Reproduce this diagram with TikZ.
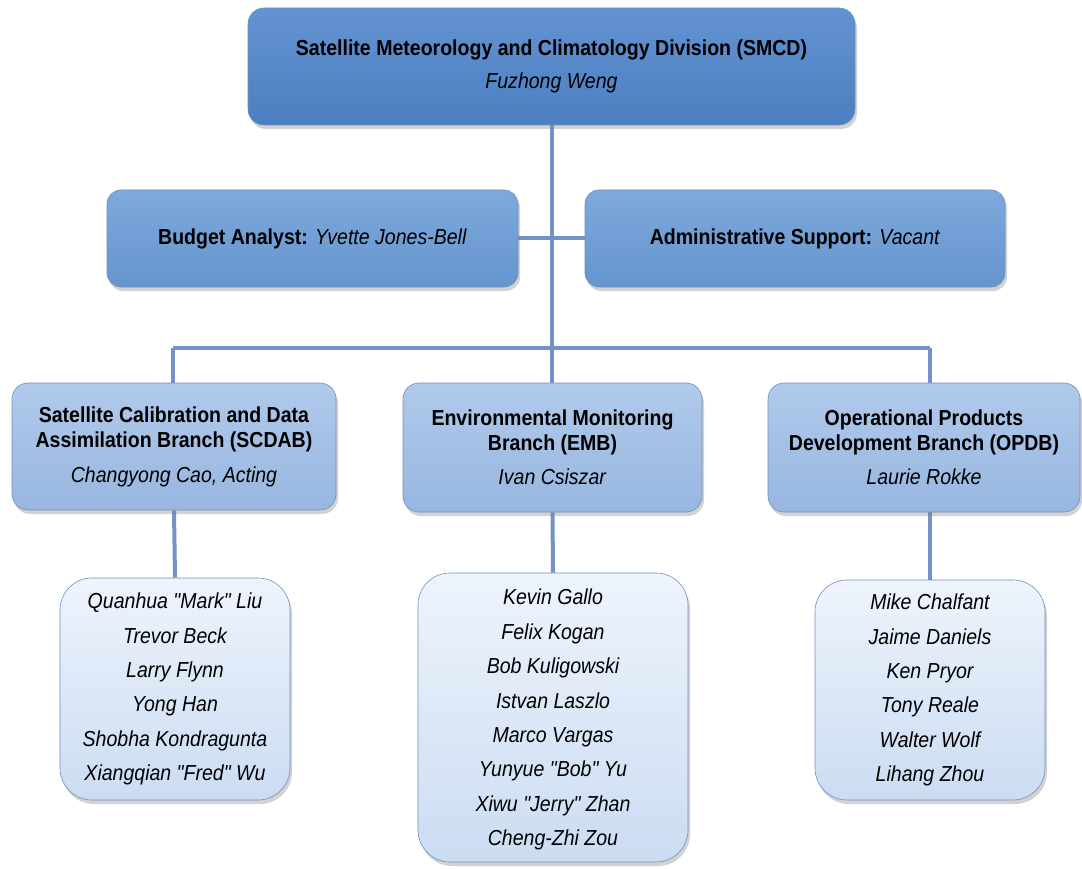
\documentclass[tikz,border=0pt]{standalone}
\usepackage{fontspec}
\setmainfont{Liberation Sans}[FakeStretch=0.9, Ligatures=TeXOff]
\usetikzlibrary{shadows}
\pgfdeclarelayer{background}
\pgfsetlayers{background,main}
\definecolor{lineblue}{HTML}{7393C6}
\definecolor{topA}{HTML}{6393D2}
\definecolor{topB}{HTML}{4C7EC1}
\definecolor{midA}{HTML}{7DA9DC}
\definecolor{midB}{HTML}{6595CE}
\definecolor{brA}{HTML}{B0CAEB}
\definecolor{brB}{HTML}{98B6E0}
\definecolor{stA}{HTML}{EEF4FC}
\definecolor{stB}{HTML}{CBDCF2}
\definecolor{edge}{HTML}{6F8FBF}
\tikzset{
  x=1pt, y=-1pt,
  conn/.style={draw=lineblue, line width=4pt},
  basebox/.style={draw=edge, line width=0.6pt, align=center, inner sep=0pt,
    drop shadow={shadow xshift=2pt, shadow yshift=-4pt, opacity=0.35},
    font=\fontsize{21.7}{25}\selectfont},
  topbox/.style={basebox, rounded corners=16pt, top color=topA, bottom color=topB},
  midbox/.style={basebox, rounded corners=14pt, top color=midA, bottom color=midB},
  brbox/.style={basebox, rounded corners=16pt, top color=brA, bottom color=brB},
  stbox/.style={basebox, rounded corners=32pt, top color=stA, bottom color=stB,
    font=\fontsize{21.7}{34.4}\selectfont\itshape},
}
\begin{document}
\begin{tikzpicture}
\useasboundingbox (0,0) rectangle (1082,869);
% nodes
\node[topbox, minimum width=607pt, minimum height=117pt] (top) at (551.5,66.5)
  {\textbf{Satellite Meteorology and Climatology Division (SMCD)}\\[8pt]\textit{Fuzhong Weng}};
\node[midbox, minimum width=411pt, minimum height=97pt] (budget) at (312.5,238.5)
  {\textbf{Budget Analyst:} \textit{Yvette Jones-Bell}};
\node[midbox, minimum width=420pt, minimum height=97pt] (admin) at (795,238.5)
  {\textbf{Administrative Support:} \textit{Vacant}};
\node[brbox, minimum width=324pt, minimum height=127pt] (scdab) at (174,446.5)
  {\textbf{Satellite Calibration and Data}\\\textbf{Assimilation Branch (SCDAB)}\\[10pt]\textit{Changyong Cao, Acting}};
\node[brbox, minimum width=299pt, minimum height=129pt] (emb) at (552.5,447.5)
  {\textbf{Environmental Monitoring}\\\textbf{Branch (EMB)}\\[9pt]\textit{Ivan Csiszar}};
\node[brbox, minimum width=312pt, minimum height=129pt] (opdb) at (924,447.5)
  {\textbf{Operational Products}\\\textbf{Development Branch (OPDB)}\\[9pt]\textit{Laurie Rokke}};
\node[stbox, minimum width=230pt, minimum height=222pt] (scdabst) at (175,689)
  {Quanhua "Mark" Liu\\Trevor Beck\\Larry Flynn\\Yong Han\\Shobha Kondragunta\\Xiangqian "Fred" Wu};
\node[stbox, minimum width=270pt, minimum height=289pt, text depth=-8pt] (embst) at (553,717.5)
  {Kevin Gallo\\Felix Kogan\\Bob Kuligowski\\Istvan Laszlo\\Marco Vargas\\Yunyue "Bob" Yu\\Xiwu "Jerry" Zhan\\Cheng-Zhi Zou};
\node[stbox, minimum width=230pt, minimum height=220pt] (opdbst) at (930,690)
  {Mike Chalfant\\Jaime Daniels\\Ken Pryor\\Tony Reale\\Walter Wolf\\Lihang Zhou};
% connectors
\coordinate (busL) at (173,348);
\coordinate (busR) at (930,348);
\begin{pgfonlayer}{background}
\fill[white] (0,0) rectangle (1082,869);
\draw[conn] (top.south) -- (top.south |- emb.north);
\draw[conn] (budget.east) -- (admin.west);
\draw[conn] (busL) -- (busR);
\draw[conn] (busL) -- (busL |- scdab.north);
\draw[conn] (busR) -- (busR |- opdb.north);
\draw[conn] (scdab.south) -- (scdabst.north);
\draw[conn] (emb.south) -- (embst.north);
\draw[conn] (opdb.south -| opdbst.north) -- (opdbst.north);
\end{pgfonlayer}
\end{tikzpicture}
\end{document}
